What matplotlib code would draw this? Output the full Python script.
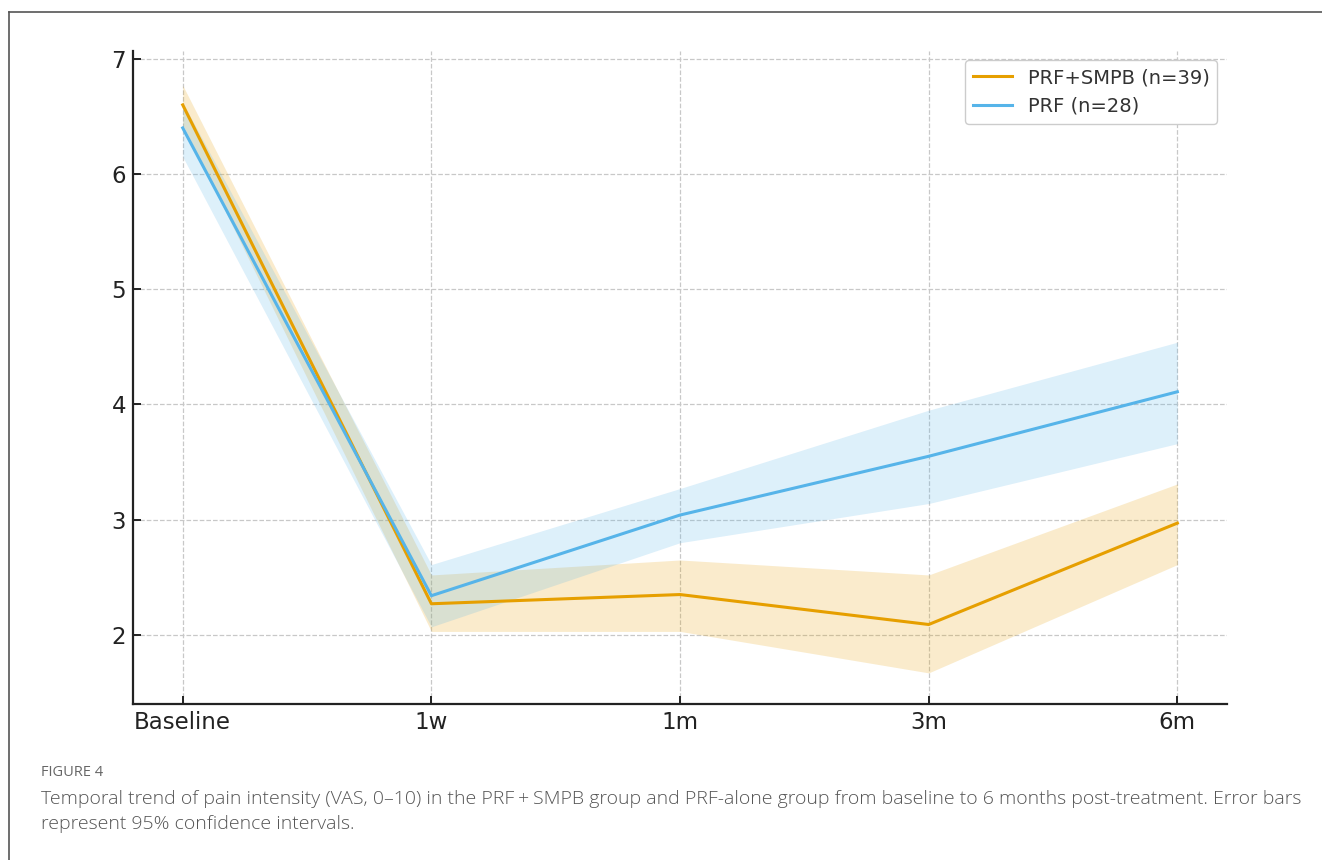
import matplotlib.pyplot as plt
import numpy as np
from matplotlib.lines import Line2D

# time points
timepoints = ["Baseline", "1w", "1m", "3m", "6m"]

# PRF + SMPB group (n=39): mean VAS and 95% CI bounds
combo_mean = [6.60, 2.27, 2.35, 2.09, 2.97]
combo_low = [6.43, 2.03, 2.03, 1.67, 2.61]
combo_high = [6.77, 2.52, 2.65, 2.52, 3.31]

# PRF alone group (n=28)
prf_mean = [6.40, 2.34, 3.04, 3.55, 4.11]
prf_low = [6.15, 2.07, 2.80, 3.14, 3.66]
prf_high = [6.62, 2.61, 3.27, 3.95, 4.54]

orange = "#E69F00"
blue = "#56B4E9"

plt.rcParams["font.family"] = ["DejaVu Sans"]

fig = plt.figure(figsize=(13.22, 8.6), dpi=100)
ax = fig.add_axes([0.1006, 0.1814, 0.8276, 0.7596])

x = np.arange(len(timepoints))
ax.fill_between(x, combo_low, combo_high, color=orange, alpha=0.2, linewidth=0)
ax.fill_between(x, prf_low, prf_high, color=blue, alpha=0.2, linewidth=0)
ax.plot(x, combo_mean, color=orange, lw=2.2, label="PRF+SMPB (n=39)")
ax.plot(x, prf_mean, color=blue, lw=2.2, label="PRF (n=28)")

ax.set_xlim(-0.2, 4.2)
ax.set_ylim(1.40, 7.07)
ax.set_xticks(x)
ax.set_xticklabels(timepoints)
ax.set_yticks([2, 3, 4, 5, 6, 7])

ax.grid(True, linestyle="--", color="#c8c8c8", linewidth=0.9)
ax.set_axisbelow(True)
for s in ["top", "right"]:
    ax.spines[s].set_visible(False)
for s in ["left", "bottom"]:
    ax.spines[s].set_linewidth(1.6)
    ax.spines[s].set_color("#222222")
ax.tick_params(direction="in", length=6, width=1.4, labelsize=16.5,
               labelcolor="#222222", color="#222222", pad=5)

ax.legend(loc="upper right", framealpha=1, edgecolor="#cccccc",
          handlelength=2.0, labelcolor="#333333", prop={"size": 14})

# page frame (top and left edges of the figure panel)
fig.add_artist(Line2D([9 / 1322, 1.0], [1 - 12 / 860, 1 - 12 / 860],
                      color="#555555", lw=1.2))
fig.add_artist(Line2D([9 / 1322, 9 / 1322], [0.0, 1 - 12 / 860],
                      color="#555555", lw=1.2))

fig.text(41 / 1322, 1 - 773 / 860, "FIGURE 4", fontsize=10.5, color="#666666",
         family="Open Sans", va="center")
fig.text(41 / 1322, 1 - 799 / 860,
         "Temporal trend of pain intensity (VAS, 0\u201310) in the PRF\u2009+\u2009SMPB group "
         "and PRF-alone group from baseline to 6 months post-treatment. Error bars",
         fontsize=14.0, color="#555555", family=["Open Sans", "DejaVu Sans"],
         fontweight="light", va="center")
fig.text(41 / 1322, 1 - 824 / 860, "represent 95% confidence intervals.",
         fontsize=14.0, color="#555555", family="Open Sans", fontweight="light",
         va="center")

fig.savefig("out.png", dpi=100)
